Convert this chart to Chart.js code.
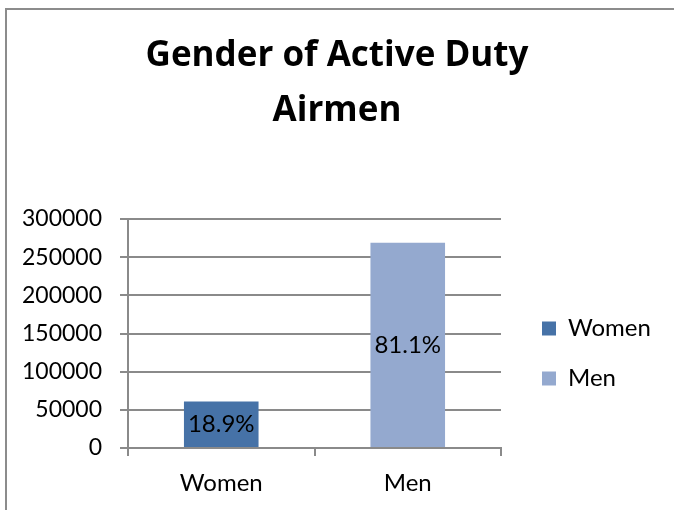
<!DOCTYPE html>
<html>
<head>
<meta charset="utf-8">
<script src="https://cdn.jsdelivr.net/npm/chart.js@4/dist/chart.umd.min.js"></script>
<style>
  html, body { margin: 0; padding: 0; background: #ffffff; }
  #wrap { width: 674px; height: 510px; }
</style>
</head>
<body>
<div id="wrap"><canvas id="c" width="674" height="510"></canvas></div>
<script>
const titleLines = ['Gender of Active Duty', 'Airmen'];
const categories = ['Women', 'Men'];
const seriesNames = ['Women', 'Men'];
const womenValues = [61000, null];
const menValues = [null, 269000];
const percentLabels = ['18.9%', '81.1%'];
const yMin = 0, yMax = 300000, yStep = 50000;
const seriesColors = ['#4672A7', '#94A9CF'];

const FONT = 'Lato, "Liberation Sans", sans-serif';
const TITLE_FONT = '"Open Sans", Lato, sans-serif';
const GRID = '#8a8a8a';

const framePlugin = {
  id: 'frame',
  beforeDraw(chart) {
    const ctx = chart.ctx;
    ctx.save();
    ctx.strokeStyle = '#8c8c8c';
    ctx.lineWidth = 2;
    ctx.beginPath();
    ctx.moveTo(6, chart.height);
    ctx.lineTo(6, 9);
    ctx.lineTo(chart.width, 9);
    ctx.stroke();
    ctx.restore();
  }
};

const legendWidthPlugin = {
  id: 'legendWidth',
  afterInit(chart) {
    const lg = chart.legend;
    if (lg && !lg._patched) {
      const orig = lg.fit.bind(lg);
      lg.fit = function () { orig(); this.width = 158; };
      lg._patched = true;
    }
  }
};

const pctPlugin = {
  id: 'pct',
  afterDatasetsDraw(chart) {
    const ctx = chart.ctx;
    ctx.save();
    ctx.font = '24px ' + FONT;
    ctx.fillStyle = '#000000';
    ctx.textAlign = 'center';
    ctx.textBaseline = 'middle';
    chart.data.datasets.forEach((ds, di) => {
      const meta = chart.getDatasetMeta(di);
      meta.data.forEach((el, i) => {
        if (ds.data[i] === null || ds.data[i] === undefined) return;
        ctx.fillText(percentLabels[i], el.x, (el.y + el.base) / 2);
      });
    });
    ctx.restore();
  }
};

new Chart(document.getElementById('c'), {
  type: 'bar',
  data: {
    labels: categories,
    datasets: [
      { label: seriesNames[0], data: womenValues, backgroundColor: seriesColors[0], borderWidth: 0, grouped: false, categoryPercentage: 1, barPercentage: 0.4 },
      { label: seriesNames[1], data: menValues, backgroundColor: seriesColors[1], borderWidth: 0, grouped: false, categoryPercentage: 1, barPercentage: 0.4 }
    ]
  },
  options: {
    responsive: false,
    animation: false,
    devicePixelRatio: 1,
    layout: { padding: 0 },
    plugins: {
      title: {
        display: true,
        text: titleLines,
        color: '#000000',
        font: { family: TITLE_FONT, size: 35, weight: 'bold', lineHeight: 55 / 35 },
        padding: { top: 29, bottom: 80 }
      },
      legend: {
        display: true,
        position: 'right',
        fullSize: false,
        align: 'center',
        title: { display: true, text: '', font: { size: 10, lineHeight: 1 }, padding: { top: 15, bottom: 15 } },
        labels: {
          color: '#000000',
          font: { family: FONT, size: 24 },
          boxWidth: 14,
          boxHeight: 14,
          padding: 26
        }
      },
      tooltip: { enabled: false }
    },
    scales: {
      x: {
        offset: true,
        grid: { offset: true, drawOnChartArea: false, drawTicks: true, tickLength: 8, color: GRID, lineWidth: 2 },
        border: { display: true, color: GRID, width: 2 },
        ticks: { color: '#000000', font: { family: FONT, size: 24 }, padding: 13 },
        afterFit(scale) { scale.height = 62; }
      },
      y: {
        min: yMin,
        max: yMax,
        grid: { drawOnChartArea: true, drawTicks: true, tickLength: 8, color: GRID, lineWidth: 2 },
        border: { display: true, color: GRID, width: 2 },
        ticks: { stepSize: yStep, color: '#000000', font: { family: FONT, size: 23 }, padding: 18, callback: (v) => String(v) },
        afterFit(scale) { scale.width = 128; }
      },
      spacer: {
        type: 'linear',
        position: 'right',
        display: true,
        grid: { display: false, drawTicks: false },
        border: { display: false },
        ticks: { display: false },
        afterFit(scale) { scale.width = 15; }
      }
    }
  },
  plugins: [framePlugin, legendWidthPlugin, pctPlugin]
});
</script>
</body>
</html>
